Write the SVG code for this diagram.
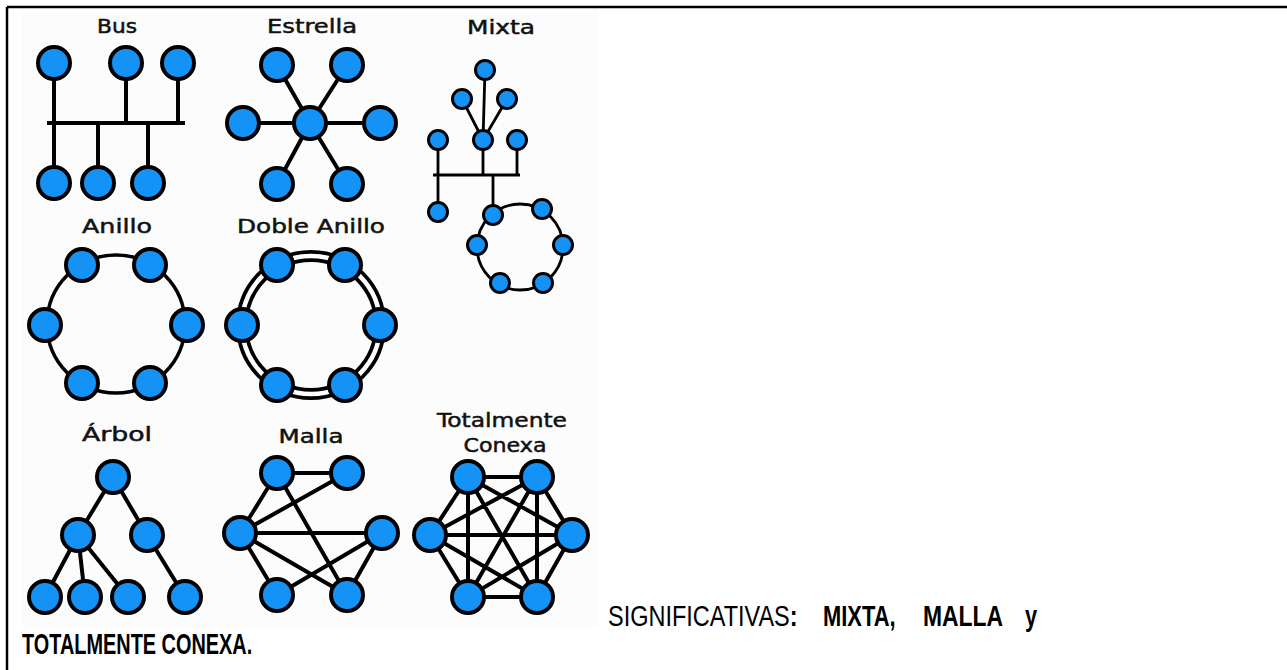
<svg xmlns="http://www.w3.org/2000/svg" width="1287" height="670" viewBox="0 0 1287 670">
<style>
.n{fill:#1592f5;stroke:#000;stroke-width:4}
.s{fill:#1592f5;stroke:#000;stroke-width:3}
.e{stroke:#000;stroke-width:4;fill:none;stroke-linecap:butt}
.es{stroke:#000;stroke-width:2.8;fill:none}
.t{font-family:"DejaVu Sans",sans-serif;font-size:20px;fill:#111;stroke:#111;stroke-width:0.5;text-anchor:middle}
.b{font-family:"Liberation Sans",Arial,sans-serif;font-size:29px;fill:#000}
</style>
<rect x="0" y="0" width="1287" height="670" fill="#fff"/>
<rect x="21" y="9" width="577" height="618" fill="#fbfcfb"/>
<g id="border" stroke="#000" stroke-width="2.5">
<line x1="7" y1="7" x2="1287" y2="7"/>
<line x1="7" y1="7" x2="7" y2="670"/>
</g>
<g id="titles">
<text class="t" x="117" y="33" textLength="40" lengthAdjust="spacingAndGlyphs">Bus</text>
<text class="t" x="312" y="33" textLength="90" lengthAdjust="spacingAndGlyphs">Estrella</text>
<text class="t" x="501" y="34" textLength="68" lengthAdjust="spacingAndGlyphs">Mixta</text>
<text class="t" x="117" y="233" textLength="70" lengthAdjust="spacingAndGlyphs">Anillo</text>
<text class="t" x="311" y="233" textLength="148" lengthAdjust="spacingAndGlyphs">Doble Anillo</text>
<text class="t" x="117" y="441" textLength="70" lengthAdjust="spacingAndGlyphs">Árbol</text>
<text class="t" x="311" y="443" textLength="65" lengthAdjust="spacingAndGlyphs">Malla</text>
<text class="t" x="502" y="427" textLength="130" lengthAdjust="spacingAndGlyphs">Totalmente</text>
<text class="t" x="505" y="452" textLength="83" lengthAdjust="spacingAndGlyphs">Conexa</text>
</g>
<g id="connectors">
<path class="e" d="M47 123H185M54 63V183M126 63V123M178 63V123M98 123V183M148 123V183"/>
<path class="e" d="M310 123L277 65M310 123L347 65M310 123H243M310 123H380M310 123L277 184M310 123L347 184"/>
<path class="es" d="M485 70L483 140M462 99L483 140M507 99L483 140M433 175H520M438 140V212M483 140V175M517 140V175M493 175V215"/>
<circle class="es" cx="520" cy="247" r="43"/>
<circle cx="116" cy="324" r="69" fill="none" stroke="#000" stroke-width="3.5"/>
<circle cx="311" cy="325" r="69" fill="none" stroke="#000" stroke-width="12"/>
<circle cx="311" cy="325" r="69" fill="none" stroke="#fff" stroke-width="4.5"/>
<path class="e" d="M113 477L78 535M113 477L147 535M78 535L45 597M78 535L85 597M78 535L128 597M147 535L185 597"/>
<path class="e" d="M277 473H347M277 473L240 533M240 533L347 473M240 533H382M240 533L277 595M240 533L347 595M277 473L347 595M277 595L382 533M347 595L382 533"/>
<path class="e" d="M468 477H537M468 477L430 535M468 477L572 535M468 477V597M468 477L537 597M537 477L430 535M537 477L572 535M537 477L468 597M537 477V597M430 535H572M430 535L468 597M430 535L537 597M572 535L468 597M572 535L537 597M468 597H537"/>
</g>
<g id="bus-nodes">
<g id="bus1"><circle class="n" cx="54" cy="63" r="16"/></g>
<g id="bus2"><circle class="n" cx="126" cy="63" r="16"/></g>
<g id="bus3"><circle class="n" cx="178" cy="63" r="16"/></g>
<g id="bus4"><circle class="n" cx="54" cy="183" r="16"/></g>
<g id="bus5"><circle class="n" cx="98" cy="183" r="16"/></g>
<g id="bus6"><circle class="n" cx="148" cy="183" r="16"/></g>
</g>
<g id="estrella-nodes">
<g id="est0"><circle class="n" cx="310" cy="123" r="16"/></g>
<g id="est1"><circle class="n" cx="277" cy="65" r="16"/></g>
<g id="est2"><circle class="n" cx="347" cy="65" r="16"/></g>
<g id="est3"><circle class="n" cx="243" cy="123" r="16"/></g>
<g id="est4"><circle class="n" cx="380" cy="123" r="16"/></g>
<g id="est5"><circle class="n" cx="277" cy="184" r="16"/></g>
<g id="est6"><circle class="n" cx="347" cy="184" r="16"/></g>
</g>
<g id="mixta-nodes">
<g id="mix1"><circle class="s" cx="485" cy="70" r="9.5"/></g>
<g id="mix2"><circle class="s" cx="462" cy="99" r="9.5"/></g>
<g id="mix3"><circle class="s" cx="507" cy="99" r="9.5"/></g>
<g id="mix4"><circle class="s" cx="438" cy="140" r="9.5"/></g>
<g id="mix5"><circle class="s" cx="483" cy="140" r="9.5"/></g>
<g id="mix6"><circle class="s" cx="517" cy="140" r="9.5"/></g>
<g id="mix7"><circle class="s" cx="438" cy="212" r="9.5"/></g>
<g id="mix8"><circle class="s" cx="493" cy="215" r="9.5"/></g>
<g id="mix9"><circle class="s" cx="542" cy="209" r="9.5"/></g>
<g id="mix10"><circle class="s" cx="477" cy="245" r="9.5"/></g>
<g id="mix11"><circle class="s" cx="563" cy="245" r="9.5"/></g>
<g id="mix12"><circle class="s" cx="500" cy="283" r="9.5"/></g>
<g id="mix13"><circle class="s" cx="543" cy="283" r="9.5"/></g>
</g>
<g id="anillo-nodes">
<g id="an1"><circle class="n" cx="82" cy="265" r="16"/></g>
<g id="an2"><circle class="n" cx="150" cy="265" r="16"/></g>
<g id="an3"><circle class="n" cx="45" cy="325" r="16"/></g>
<g id="an4"><circle class="n" cx="187" cy="325" r="16"/></g>
<g id="an5"><circle class="n" cx="82" cy="383" r="16"/></g>
<g id="an6"><circle class="n" cx="150" cy="383" r="16"/></g>
</g>
<g id="doble-nodes">
<g id="da1"><circle class="n" cx="277" cy="265" r="16"/></g>
<g id="da2"><circle class="n" cx="345" cy="265" r="16"/></g>
<g id="da3"><circle class="n" cx="242" cy="325" r="16"/></g>
<g id="da4"><circle class="n" cx="380" cy="325" r="16"/></g>
<g id="da5"><circle class="n" cx="277" cy="385" r="16"/></g>
<g id="da6"><circle class="n" cx="345" cy="385" r="16"/></g>
</g>
<g id="arbol-nodes">
<g id="ar1"><circle class="n" cx="113" cy="477" r="16"/></g>
<g id="ar2"><circle class="n" cx="78" cy="535" r="16"/></g>
<g id="ar3"><circle class="n" cx="147" cy="535" r="16"/></g>
<g id="ar4"><circle class="n" cx="45" cy="597" r="16"/></g>
<g id="ar5"><circle class="n" cx="85" cy="597" r="16"/></g>
<g id="ar6"><circle class="n" cx="128" cy="597" r="16"/></g>
<g id="ar7"><circle class="n" cx="185" cy="597" r="16"/></g>
</g>
<g id="malla-nodes">
<g id="ma1"><circle class="n" cx="277" cy="473" r="16"/></g>
<g id="ma2"><circle class="n" cx="347" cy="473" r="16"/></g>
<g id="ma3"><circle class="n" cx="240" cy="533" r="16"/></g>
<g id="ma4"><circle class="n" cx="382" cy="533" r="16"/></g>
<g id="ma5"><circle class="n" cx="277" cy="595" r="16"/></g>
<g id="ma6"><circle class="n" cx="347" cy="595" r="16"/></g>
</g>
<g id="conexa-nodes">
<g id="tc1"><circle class="n" cx="468" cy="477" r="16"/></g>
<g id="tc2"><circle class="n" cx="537" cy="477" r="16"/></g>
<g id="tc3"><circle class="n" cx="430" cy="535" r="16"/></g>
<g id="tc4"><circle class="n" cx="572" cy="535" r="16"/></g>
<g id="tc5"><circle class="n" cx="468" cy="597" r="16"/></g>
<g id="tc6"><circle class="n" cx="537" cy="597" r="16"/></g>
</g>
<g id="caption">
<text class="b" transform="translate(608,626) scale(0.81,1)" x="0" y="0">SIGNIFICATIVAS<tspan font-weight="bold">:</tspan></text>
<text class="b" transform="translate(823,626) scale(0.755,1)" x="0" y="0" font-weight="bold">MIXTA,</text>
<text class="b" transform="translate(923,626) scale(0.79,1)" x="0" y="0" font-weight="bold">MALLA</text>
<text class="b" transform="translate(1025,626) scale(0.75,1)" x="0" y="0" font-weight="bold">y</text>
<text class="b" transform="translate(22,654) scale(0.686,1)" x="0" y="0" font-size="28" font-weight="bold">TOTALMENTE CONEXA.</text>
</g>
</svg>
